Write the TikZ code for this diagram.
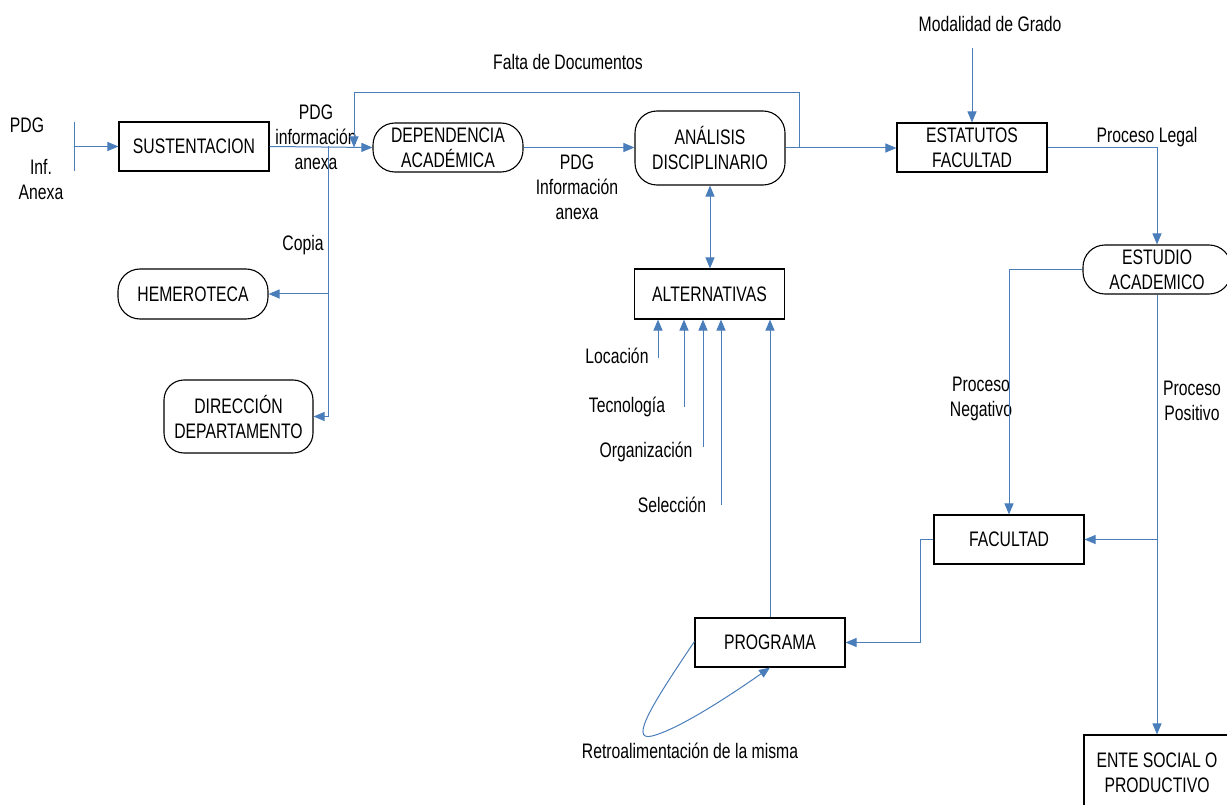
\documentclass[tikz,border=0pt]{standalone}
\usepackage{fontspec}
\setmainfont{Liberation Sans}[FakeStretch=0.75]
\usetikzlibrary{arrows.meta}
\definecolor{lb}{RGB}{74,126,187}
\begin{document}
\begin{tikzpicture}[x=1pt,y=-1pt,
  font=\fontsize{21}{25}\selectfont,
  box/.style={draw=black,line width=1.1pt,fill=white,align=center,inner sep=0pt},
  sq/.style={box,minimum width=150pt,minimum height=49pt},
  rnd/.style={box,rounded corners=22pt,minimum width=150pt,minimum height=49pt},
  lbl/.style={align=center,inner sep=0pt},
  conn/.style={draw=lb,line width=1pt},
  arr/.style={conn,-{Triangle[length=11pt,width=9pt]}},
  biarr/.style={conn,{Triangle[length=11pt,width=9pt]}-{Triangle[length=11pt,width=9pt]}},
]
\useasboundingbox (0,0) rectangle (1227,805);
\clip (0,0) rectangle (1227,805);

% nodes
\node[sq] (sust) at (194,146.5) {SUSTENTACION};
\node[rnd] (dep) at (448,147.5) {DEPENDENCIA\\ACADÉMICA};
\node[rnd,minimum height=74pt] (ana) at (710,148) {ANÁLISIS\\DISCIPLINARIO};
\node[sq] (est) at (972,147.5) {ESTATUTOS\\FACULTAD};
\node[rnd,minimum width=148pt] (estu) at (1157,269.5) {ESTUDIO\\ACADEMICO};
\node[sq,minimum height=50pt] (alt) at (709.5,294) {ALTERNATIVAS};
\node[rnd,minimum height=50pt] (hem) at (193,294) {HEMEROTECA};
\node[rnd,minimum width=149pt,minimum height=73pt,rounded corners=20pt] (dir) at (238.5,416.5) {DIRECCIÓN\\DEPARTAMENTO};
\node[sq] (prog) at (770,642.5) {PROGRAMA};
\node[sq] (fac) at (1009,539.5) {FACULTAD};
\node[sq,minimum width=146pt,minimum height=76pt] (ente) at (1157,773) {ENTE SOCIAL O\\PRODUCTIVO};

% labels
\node[lbl] (pdgin) at (27,125) {PDG};
\node[lbl] (infanexa) at (41,180) {Inf.\\Anexa};
\node[lbl] (lab1) at (316,137) {PDG\\información\\anexa};
\node[lbl] (lab2) at (577,187) {PDG\\Información\\anexa};
\node[lbl] (falta) at (568,62) {Falta de Documentos};
\node[lbl] (modal) at (990,24) {Modalidad de Grado};
\node[lbl] (legal) at (1147,137) {Proceso Legal};
\node[lbl] (copia) at (303,245) {Copia};
\node[lbl] (neg) at (981,399) {Proceso\\Negativo};
\node[lbl] (pos) at (1192,401) {Proceso\\Positivo};
\node[lbl] (loc) at (617,356) {Locación};
\node[lbl] (tec) at (627,407) {Tecnología};
\node[lbl] (org) at (646,452) {Organización};
\node[lbl] (sel) at (672,505) {Selección};
\node[lbl] (retro) at (690,751) {Retroalimentación de la misma};

% coordinates
\coordinate (inTop) at (74,122);
\coordinate (inBot) at (74,171);
\coordinate (inMid) at (74,146.5);
\coordinate (j1) at (328,146.5);
\coordinate (j2) at (799,148);
\coordinate (f1) at (799,93);
\coordinate (f2) at (354,93);
\coordinate (modTop) at (972,48);
\coordinate (locS) at (658,358);
\coordinate (tecS) at (684,407);
\coordinate (orgS) at (703,447);
\coordinate (selS) at (721,505);

% connectors
\draw[conn] (inTop) -- (inBot);
\draw[arr] (inMid) -- (sust.west);
\draw[arr] (sust.east) -- (dep.west);
\draw[arr] (j1) |- (dir.east);
\draw[arr] (j1 |- hem.east) -- (hem.east);
\draw[arr] (j2) -- (f1) -- (f2) -- (f2 |- dep.west);
\draw[arr] (dep.east) -- (dep.east -| ana.west);
\draw[arr] (ana.east) -- (ana.east -| est.west);
\draw[arr] (modTop) -- (est.north);
\draw[arr] (est.east) -| (estu.north);
\draw[arr] (estu.west) -| (fac.north);
\draw[arr] (estu.south) -- (ente.north);
\draw[arr] (estu.south |- fac.east) -- (fac.east);
\draw[arr] (fac.west) -- ++(-13,0) |- (prog.east);
\draw[arr] (prog.north) -- (prog.north |- alt.south);
\draw[biarr] (ana.south) -- (ana.south |- alt.north);
\draw[arr] (locS) -- (locS |- alt.south);
\draw[arr] (tecS) -- (tecS |- alt.south);
\draw[arr] (orgS) -- (orgS |- alt.south);
\draw[arr] (selS) -- (selS |- alt.south);
\draw[arr] ([yshift=1pt]prog.west) .. controls (655,700) and (628,742) .. (652,736)
  .. controls (680,729) and (735,692) .. (prog.south);
\end{tikzpicture}
\end{document}
